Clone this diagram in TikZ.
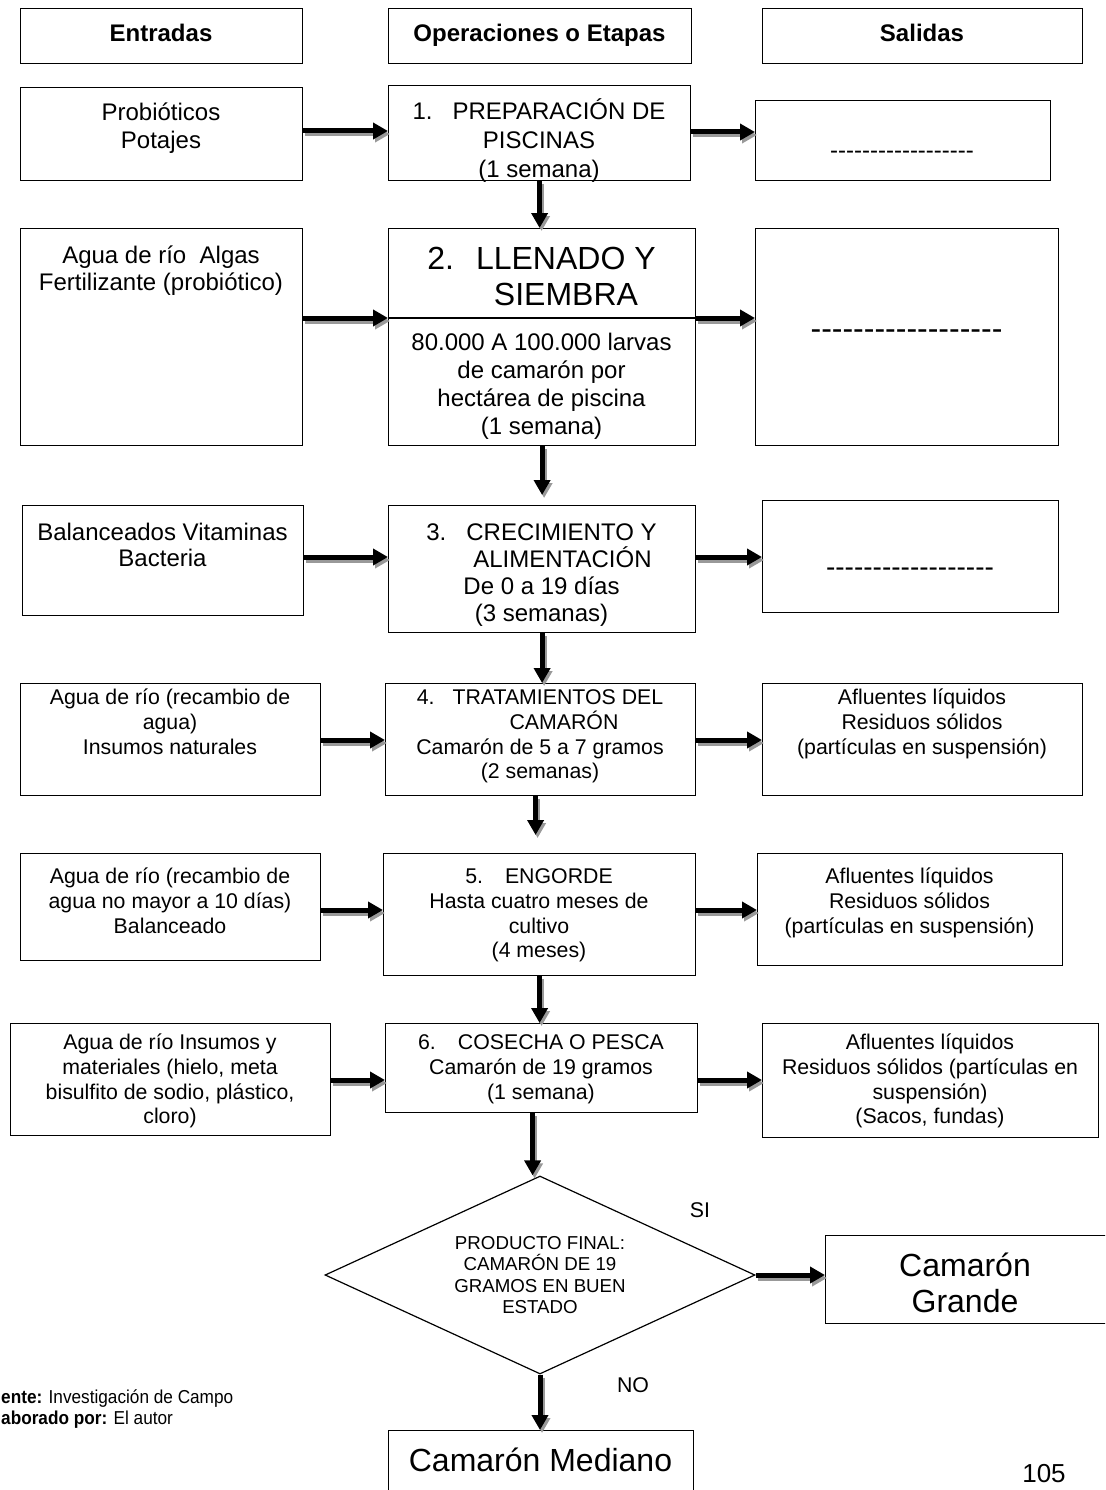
\documentclass[tikz,border=0pt]{standalone}
\usepackage{fontspec}
\setmainfont{Liberation Sans}
\usetikzlibrary{arrows.meta,shapes.geometric}
\newcommand\dashrow[1]{\foreach \k in {1,...,#1}{-\kern0pt}}
\newcommand\mkbox[5]{\node[box, minimum width=#4pt, minimum height=#5pt] (#1) at (#2,#3) {};}
\newcommand\mktext[5]{\node[txt,#2] (#1) at #3 {\parbox[t]{#4pt}{\centering #5}};}
\tikzset{
  box/.style={draw, line width=1.2pt, inner sep=0pt, anchor=north west},
  txt/.style={inner sep=0pt, anchor=base},
  fA/.style={font=\fontsize{24}{27.6}\selectfont},
  fB/.style={font=\fontsize{21.3}{24.8}\selectfont},
  fH/.style={font=\fontsize{24}{27.6}\selectfont\bfseries},
  fL/.style={font=\fontsize{32}{36.8}\selectfont},
  fD/.style={font=\fontsize{18.7}{21.5}\selectfont},
  dia/.style={draw, diamond, line width=1.2pt, minimum width=430pt, minimum height=198pt, aspect=2.17, inner sep=0pt, align=center, fD},
  arr/.style={line width=5pt, -{Triangle[length=15pt,width=16pt]},
    preaction={draw=black!40, line width=5pt, -{Triangle[length=15pt,width=16pt]}, transform canvas={xshift=2pt,yshift=-3pt}}},
}
\begin{document}
\begin{tikzpicture}[x=1pt,y=-1pt]
\path[use as bounding box] (0,0) rectangle (1105,1490);
\fill[white] (0,0) rectangle (1105,1490);
\clip (0,0) rectangle (1105,1490);

% headers
\mkbox{hE}{20}{8}{282}{55}
\mkbox{hO}{388}{8}{303}{55}
\mkbox{hS}{762}{8}{320}{55}
\mktext{hEt}{fH}{(161,42)}{276}{Entradas}
\mktext{hOt}{fH}{(539.5,42)}{297}{Operaciones o Etapas}
\mktext{hSt}{fH}{(922,42)}{314}{Salidas}

% row 1
\mkbox{in1}{20}{87}{282}{93}
\mkbox{op1}{388}{85}{302}{95}
\mkbox{out1}{755}{100}{295}{80}
\mktext{in1t}{fA}{(161,121)}{276}{Probióticos\\Potajes}
\begin{scope}
\clip (op1.north west) rectangle (op1.south east);
\mktext{op1t}{font=\fontsize{24}{29}\selectfont}{(539,120)}{296}{1.\hspace{20pt}PREPARACIÓN DE\\PISCINAS\\(1 semana)}
\end{scope}
\mktext{out1t}{fA}{(902,159)}{289}{\dashrow{18}}

% row 2
\mkbox{in2}{20}{228}{282}{217}
\mkbox{op2}{388}{228}{307}{217}
\mkbox{out2}{755}{228}{303}{217}
\coordinate (d2) at (0,318);
\draw[line width=1.2pt] (op2.west |- d2) -- (op2.east |- d2);
\mktext{in2t}{font=\fontsize{24}{27}\selectfont}{(161,263)}{276}{Agua de río~ Algas\\Fertilizante (probiótico)}
\mktext{op2a}{fL}{(541.5,269)}{301}{2.\hspace{22pt}LLENADO Y\\\hspace*{49pt}SIEMBRA}
\mktext{op2b}{font=\fontsize{24}{28}\selectfont}{(541.5,350)}{301}{80.000 A 100.000 larvas\\de camarón por\\hectárea de piscina\\(1 semana)}
\mktext{out2t}{fL}{(906.5,339)}{297}{\dashrow{18}}

% row 3
\mkbox{in3}{22}{505}{281}{110}
\mkbox{op3}{388}{505}{307}{127}
\mkbox{out3}{762}{500}{296}{112}
\mktext{in3t}{font=\fontsize{24}{26.5}\selectfont}{(162.5,540)}{275}{Balanceados Vitaminas\\Bacteria}
\mktext{op3t}{font=\fontsize{24}{27}\selectfont}{(541.5,540)}{301}{3.\hspace{20pt}CRECIMIENTO Y\\\hspace*{42pt}ALIMENTACIÓN\\De 0 a 19 días\\(3 semanas)}
\mktext{out3t}{font=\fontsize{28}{32}\selectfont}{(910,576)}{290}{\dashrow{18}}

% row 4
\mkbox{in4}{20}{683}{300}{112}
\mkbox{op4}{385}{683}{310}{112}
\mkbox{out4}{762}{683}{320}{112}
\mktext{in4t}{fB}{(170,704.5)}{294}{Agua de río (recambio de\\agua)\\Insumos naturales}
\mktext{op4t}{fB}{(540,704.5)}{304}{4.\hspace{18pt}TRATAMIENTOS DEL\\\hspace*{48pt}CAMARÓN\\Camarón de 5 a 7 gramos\\(2 semanas)}
\mktext{out4t}{fB}{(922,704.5)}{314}{Afluentes líquidos\\Residuos sólidos\\(partículas en suspensión)}

% row 5
\mkbox{in5}{20}{853}{300}{107}
\mkbox{op5}{383}{853}{312}{122}
\mkbox{out5}{757}{853}{305}{112}
\mktext{in5t}{fB}{(170,883.5)}{294}{Agua de río (recambio de\\agua no mayor a 10 días)\\Balanceado}
\mktext{op5t}{fB}{(539,883.5)}{306}{5.\hspace{22pt}ENGORDE\\Hasta cuatro meses de\\cultivo\\(4 meses)}
\mktext{out5t}{fB}{(909.5,883.5)}{299}{Afluentes líquidos\\Residuos sólidos\\(partículas en suspensión)}

% row 6
\mkbox{in6}{10}{1023}{320}{112}
\mkbox{op6}{385}{1023}{312}{89}
\mkbox{out6}{762}{1023}{336}{114}
\mktext{in6t}{fB}{(170,1049.5)}{314}{Agua de río Insumos y\\materiales (hielo, meta\\bisulfito de sodio, plástico,\\cloro)}
\mktext{op6t}{fB}{(541,1049.5)}{306}{6.\hspace{22pt}COSECHA O PESCA\\Camarón de 19 gramos\\(1 semana)}
\mktext{out6t}{fB}{(930,1049.5)}{330}{Afluentes líquidos\\Residuos sólidos (partículas en\\suspensión)\\(Sacos, fundas)}

% decision
\node[dia] (dec) at (540,1275) {PRODUCTO FINAL:\\CAMARÓN DE 19\\GRAMOS EN BUEN\\ESTADO};
\mkbox{big}{825}{1235}{285}{88}
\mktext{bigt}{fL}{(965,1276)}{270}{Camarón\\Grande}
\mkbox{med}{388}{1430}{305}{80}
\mktext{medt}{fL}{(540.5,1471)}{300}{Camarón Mediano}
\node[txt, fB] (si) at (700,1217.5) {SI};
\node[txt, fB] (no) at (633,1392.5) {NO};

% footer
\node[txt, anchor=base west] (src) at (1,1403.5) {\scalebox{0.92}[1]{\fontsize{18.7}{21}\selectfont\textbf{ente:} Investigación de Campo}};
\node[txt, anchor=base west] (aut) at (1,1424.5) {\scalebox{0.92}[1]{\fontsize{18.7}{21}\selectfont\textbf{aborado por:} El autor}};
\node[txt, font=\fontsize{26}{30}\selectfont] (pg) at (1044,1482) {105};

% arrows
\coordinate (r1a) at (0,131);
\coordinate (r1b) at (0,132);
\coordinate (r2) at (0,318);
\coordinate (r3) at (0,557);
\coordinate (r4) at (0,740);
\coordinate (r5) at (0,910);
\coordinate (r6) at (0,1080);
\draw[arr] (in1.east |- r1a) -- (op1.west |- r1a);
\draw[arr] (op1.east |- r1b) -- (out1.west |- r1b);
\draw[arr] (in2.east |- r2) -- (op2.west |- r2);
\draw[arr] (op2.east |- r2) -- (out2.west |- r2);
\draw[arr] (in3.east |- r3) -- (op3.west |- r3);
\draw[arr] (op3.east |- r3) -- (out3.west |- r3);
\draw[arr] (in4.east |- r4) -- (op4.west |- r4);
\draw[arr] (op4.east |- r4) -- (out4.west |- r4);
\draw[arr] (in5.east |- r5) -- (op5.west |- r5);
\draw[arr] (op5.east |- r5) -- (out5.west |- r5);
\draw[arr] (in6.east |- r6) -- (op6.west |- r6);
\draw[arr] (op6.east |- r6) -- (out6.west |- r6);

\draw[arr] (op1.south) -- (op1.south |- op2.north);
\draw[arr, shorten >=10pt] (op2.south) -- (op2.south |- op3.north);
\draw[arr] (op3.south) -- (op3.south |- op4.north);
\draw[arr, shorten >=18pt] ([xshift=-5pt]op4.south) -- ([xshift=-5pt]op4.south |- op5.north);
\draw[arr] (op5.south) -- (op5.south |- op6.north);
\draw[arr] ([xshift=-9pt]op6.south) -- ([xshift=-9pt]op6.south |- dec.north);
\draw[arr] (dec.south) -- (dec.south |- med.north);
\draw[arr] (dec.east) -- (dec.east -| big.west);
\end{tikzpicture}
\end{document}
